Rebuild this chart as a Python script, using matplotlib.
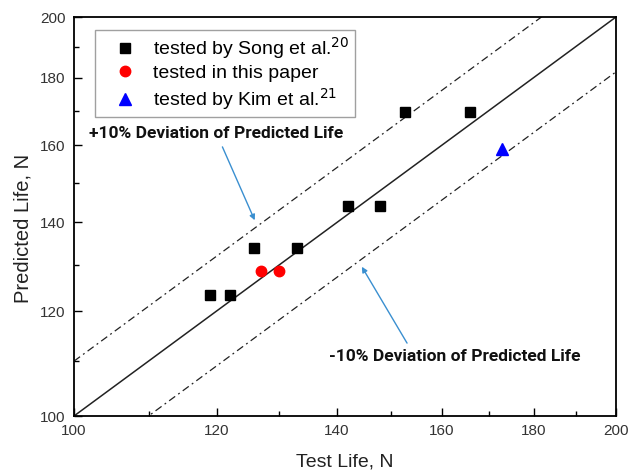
import matplotlib
matplotlib.use('Agg')
import matplotlib.pyplot as plt
import numpy as np
from matplotlib.ticker import FixedLocator, NullFormatter

plt.rcParams['font.family'] = ['Liberation Sans', 'DejaVu Sans']

# datos
song_x = [119.0, 122.1, 125.9, 133.0, 142.0, 147.9, 152.7, 165.9]
song_y = [123.5, 123.5, 134.0, 134.0, 143.9, 143.9, 169.5, 169.5]
paper_x = [127.0, 130.0]
paper_y = [128.7, 128.7]
kim_x = [172.9]
kim_y = [158.9]

major_ticks = [100, 120, 140, 160, 180, 200]
minor_ticks = [110, 130, 150, 170, 190]
dev = 0.10

fig = plt.figure(figsize=(6.29, 4.73), dpi=100)
ax = fig.add_axes([74/629, 1-416/473, 542/629, 399/473])
ax.set_xscale('log')
ax.set_yscale('log')
ax.set_xlim(100, 200)
ax.set_ylim(100, 200)

# lineas de referencia
xl = np.array([100.0, 200.0])
ax.plot(xl, xl, '-', color='#222222', lw=1.1)
ax.plot(xl, xl*(1+dev), '-.', color='#222222', lw=0.9, dashes=(6, 3, 1.5, 3))
ax.plot(xl, xl/(1+dev), '-.', color='#222222', lw=0.9, dashes=(6, 3, 1.5, 3))

ax.plot(song_x, song_y, 's', color='black', ms=6.5, ls='none',
        label='tested by Song et al.$^{20}$')
ax.plot(paper_x, paper_y, 'o', color='red', ms=7.5, ls='none',
        label='tested in this paper')
ax.plot(kim_x, kim_y, '^', color='blue', ms=8, ls='none',
        label='tested by Kim et al.$^{21}$')

leg = ax.legend(loc='upper left', bbox_to_anchor=(0.039, 0.968), fontsize=14,
                frameon=True, fancybox=False, edgecolor='#888888',
                handletextpad=0.15, borderpad=0.25, labelspacing=0.2,
                handlelength=2.6, borderaxespad=0)
leg.get_frame().set_linewidth(1.0)

# anotaciones
ax.annotate('', xy=(126.0, 140.5), xytext=(120.9, 159.6),
            arrowprops=dict(arrowstyle='-|>', color='#3a8fd0', lw=1.0,
                            mutation_scale=8, shrinkA=0, shrinkB=0))
ax.annotate('', xy=(144.5, 129.6), xytext=(153.1, 113.5),
            arrowprops=dict(arrowstyle='-|>', color='#3a8fd0', lw=1.0,
                            mutation_scale=8, shrinkA=0, shrinkB=0))
ax.text(0.262, 0.707, '+10% Deviation of Predicted Life', transform=ax.transAxes,
        ha='center', va='center', fontsize=12.5, fontweight='bold',
        family=['Roboto', 'DejaVu Sans'], color='#111111')
ax.text(0.703, 0.148, '-10% Deviation of Predicted Life', transform=ax.transAxes,
        ha='center', va='center', fontsize=12.5, fontweight='bold',
        family=['Roboto', 'DejaVu Sans'], color='#111111')

for axis in (ax.xaxis, ax.yaxis):
    axis.set_major_locator(FixedLocator(major_ticks))
    axis.set_minor_locator(FixedLocator(minor_ticks))
    axis.set_major_formatter(plt.FixedFormatter([str(t) for t in major_ticks]))
    axis.set_minor_formatter(NullFormatter())
ax.tick_params(which='major', direction='in', length=6, width=1.0,
               labelsize=11, labelcolor='#333333', pad=6)
ax.tick_params(which='minor', direction='in', length=3.5, width=1.0)
for s in ax.spines.values():
    s.set_linewidth(1.3)

ax.set_xlabel('Test Life, N', fontsize=14, color='#222222')
ax.set_ylabel('Predicted Life, N', fontsize=14.5, color='#222222')
ax.xaxis.set_label_coords(0.5, -0.093)
ax.yaxis.set_label_coords(-0.076, 0.47)

fig.savefig('out.png', dpi=100)
